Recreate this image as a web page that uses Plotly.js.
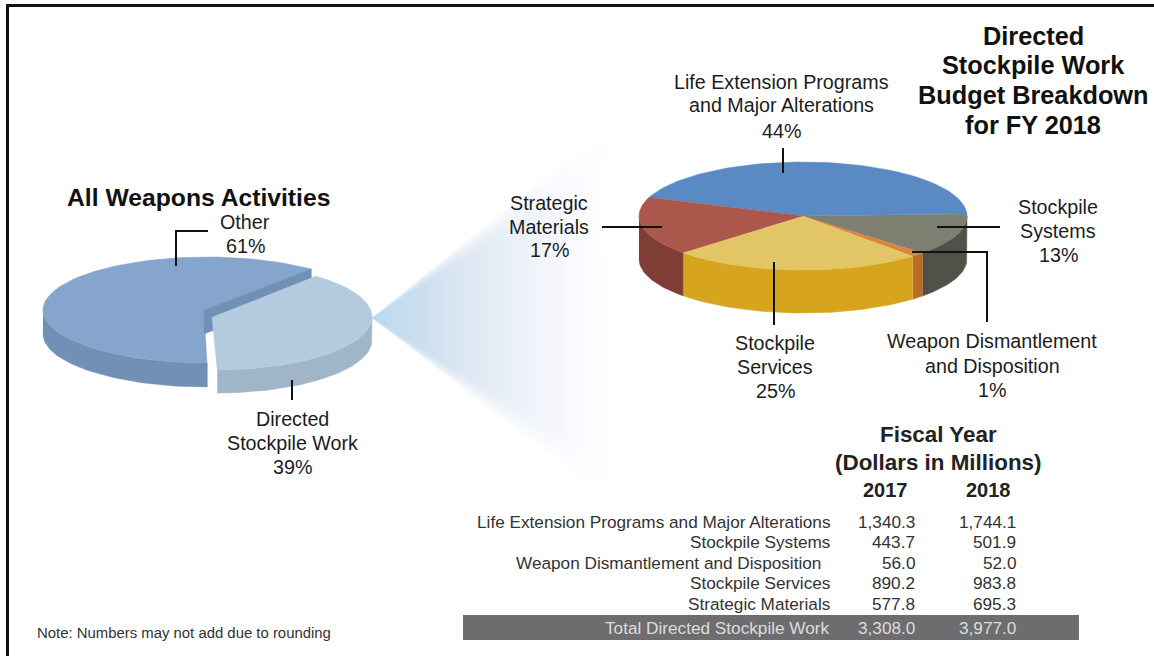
<!DOCTYPE html>
<html>
<head>
<meta charset="utf-8">
<script src="https://cdn.plot.ly/plotly-3.0.1.min.js"></script>
<style>html,body{margin:0;padding:0;background:#fff}#chart{width:1154px;height:656px}</style>
</head>
<body>
<div id="chart"></div>
<script>
// ---------- data ----------
const overviewNames = ['Other', 'Directed Stockpile Work'];
const overviewShares = [61, 39];
const budgetNames = ['Life Extension Programs and Major Alterations', 'Stockpile Systems', 'Weapon Dismantlement and Disposition', 'Stockpile Services', 'Strategic Materials'];
const fy2017 = [1340.3, 443.7, 56.0, 890.2, 577.8];
const fy2018 = [1744.1, 501.9, 52.0, 983.8, 695.3];
const total2017 = 3308.0;
const total2018 = 3977.0;
const budgetTopColors = ['#5a8ac3', '#7d7f70', '#d9853c', '#e2c564', '#ab574b'];
const budgetSideColors = ['#3f6a9c', '#50524a', '#b96d22', '#d7a41e', '#7e3d35'];
const overviewTopColors = ['#86a5cd', '#b3cadf'];
const overviewSideColors = ['#7190b6', '#a1b5c9'];

const FONT = '"Liberation Sans", Arial, sans-serif';
const INK = '#1c1c1c';
const rad = d => d * Math.PI / 180;
const traces = [];

function polygon(pts, color) {
  traces.push({type: 'scatter', mode: 'lines', x: pts.map(p => p[0]), y: pts.map(p => p[1]),
    fill: 'toself', fillcolor: color, line: {color: color, width: 0.5}, hoverinfo: 'skip', showlegend: false});
}
function arc(p, a, b, dy) {
  const n = Math.max(2, Math.ceil(Math.abs(b - a) / 2)), out = [];
  for (let i = 0; i <= n; i++) {
    const t = rad(a + (b - a) * i / n);
    out.push([p.cx + p.rx * Math.cos(t), p.cy - p.ry * Math.sin(t) + (dy || 0)]);
  }
  return out;
}
function rimFace(p, a, b, color) {           // a<b in degrees; draw only the front half
  for (let k = -2; k <= 2; k++) {
    const lo = Math.max(a, 180 + 360 * k), hi = Math.min(b, 360 + 360 * k);
    if (hi > lo) polygon(arc(p, lo, hi).concat(arc(p, hi, lo, p.depth)), color);
  }
}
function topFace(p, a, b, color) {
  polygon([[p.ax, p.ay]].concat(arc(p, a, b)), color);
}

// ---------- connector fan (soft edges built from nested triangles) ----------
const fanSpreads = [1, 0.97, 0.94, 0.91, 0.88, 0.85, 0.82, 0.79];
fanSpreads.forEach(spread => {
  traces.push({type: 'scatter', mode: 'lines', x: [372, 625, 625, 372], y: [318, 318 - 208 * spread, 318 + 197 * spread, 318],
    fill: 'toself', line: {width: 0}, hoverinfo: 'skip', showlegend: false,
    fillgradient: {type: 'horizontal', start: 372, stop: 625,
      colorscale: [[0, 'rgba(180,214,236,0.28)'], [0.35, 'rgba(205,219,236,0.14)'], [0.75, 'rgba(235,240,248,0.08)'], [1, 'rgba(255,255,255,0)']]}});
});

// ---------- left pie ----------
const leftPie = {cx: 207, cy: 310, rx: 164, ry: 53, depth: 24, ax: 204, ay: 310};
const leftOut = {cx: 217, cy: 317, rx: 155, ry: 53, depth: 23, ax: 212, ay: 317};
const leftStart = 50.5;
const otherEnd = leftStart + overviewShares[0] / 100 * 360;
const dswEnd = otherEnd + overviewShares[1] / 100 * 360;
rimFace(leftPie, leftStart, otherEnd, overviewSideColors[0]);
topFace(leftPie, leftStart, otherEnd, overviewTopColors[0]);
// cut face of the main slice, seen behind the pulled-out slice
const tip = arc(leftPie, leftStart, leftStart)[0];
polygon([[leftPie.ax, leftPie.ay], tip, [tip[0], tip[1] + leftPie.depth], [leftPie.ax, leftPie.ay + leftPie.depth]], overviewSideColors[0]);
rimFace(leftOut, otherEnd, dswEnd, overviewSideColors[1]);
topFace(leftOut, otherEnd, dswEnd, overviewTopColors[1]);

// ---------- right pie ----------
const rightPie = {cx: 803, cy: 216, rx: 164, ry: 54, depth: 43, ax: 803, ay: 216};
const budgetTotal = fy2018.reduce((s, v) => s + v, 0);
let angle = 160;
fy2018.forEach((v, i) => {
  const next = angle - v / budgetTotal * 360;
  rimFace(rightPie, next, angle, budgetSideColors[i]);
  topFace(rightPie, next, angle, budgetTopColors[i]);
  angle = next;
});

// ---------- text ----------
const annotations = [];
function txt(s, x, y, o) {
  o = o || {};
  annotations.push({text: s, x: x, y: y, xref: 'x', yref: 'y', showarrow: false, xanchor: o.anchor || 'center', yanchor: 'middle',
    align: o.anchor || 'center', borderpad: 0,
    font: {family: FONT, size: o.size || 19.7, color: o.color || INK, weight: o.bold ? 700 : 400}});
}
function stack(lines, x, ys, o) { lines.forEach((l, i) => txt(l, x, ys[i], o)); }
const pct = (v, t) => Math.round(v / t * 100) + '%';
const fmt = v => v.toLocaleString('en-US', {minimumFractionDigits: 1, maximumFractionDigits: 1});

stack(['Directed', 'Stockpile Work', 'Budget Breakdown', 'for FY 2018'], 1033, [36, 65, 95, 125], {size: 25.3, bold: true, color: '#111'});
txt('All Weapons Activities', 198, 197, {size: 24.7, bold: true, color: '#111'});
stack(['Other', overviewShares[0] + '%'], 245, [222, 246]);
stack(['Directed', 'Stockpile Work', overviewShares[1] + '%'], 292, [419, 443, 467]);
stack(['Life Extension Programs', 'and Major Alterations', pct(fy2018[0], budgetTotal)], 781, [82, 105, 131]);
stack(['Stockpile', 'Systems', pct(fy2018[1], budgetTotal)], 1058, [207, 231, 255]);
stack(['Weapon Dismantlement', 'and Disposition', pct(fy2018[2], budgetTotal)], 992, [341, 366, 390]);
stack(['Stockpile', 'Services', pct(fy2018[3], budgetTotal)], 775, [343, 367, 391]);
stack(['Strategic', 'Materials', '17%'], 549, [203, 227, 250]);
stack(['Fiscal Year', '(Dollars in Millions)'], 938, [434, 462], {size: 22.4, bold: true, color: '#222'});
txt('2017', 885, 490, {size: 20, bold: true, color: '#222'});
txt('2018', 988, 490, {size: 20, bold: true, color: '#222'});
const rowY = [522, 542, 563, 583, 604];
const labelRight = [831, 831, 822, 831, 831];
budgetNames.forEach((n, i) => {
  txt(n, labelRight[i], rowY[i], {size: 17.2, anchor: 'right', color: '#333'});
  txt(fmt(fy2017[i]), 916, rowY[i], {size: 17.2, anchor: 'right', color: '#333'});
  txt(fmt(fy2018[i]), 1017, rowY[i], {size: 17.2, anchor: 'right', color: '#333'});
});
txt('Total Directed Stockpile Work', 831, 628, {size: 17.2, anchor: 'right', color: '#dcdcdc'});
txt(fmt(total2017), 916, 628, {size: 17.2, anchor: 'right', color: '#dcdcdc'});
txt(fmt(total2018), 1017, 628, {size: 17.2, anchor: 'right', color: '#dcdcdc'});
txt('Note: Numbers may not add due to rounding', 36, 633, {size: 14.9, anchor: 'left', color: '#333'});

// ---------- leaders, bar, frame ----------
const ln = (d, w) => ({type: 'path', path: d, xref: 'x', yref: 'y', line: {color: '#111', width: w || 2}, layer: 'above'});
const shapes = [
  {type: 'rect', xref: 'x', yref: 'y', x0: 463, x1: 1079, y0: 615, y1: 640, fillcolor: '#6d6d70', line: {width: 0}, layer: 'below'},
  ln('M7.5,656 L7.5,5.5 L1154,5.5', 3),
  ln('M783,148 L783,173'), ln('M602,227 L662,227'), ln('M937,227 L1000,227'),
  ln('M912,252 L987,252 L987,322'), ln('M774,262 L774,325'),
  ln('M176,266 L176,231 L208,231'), ln('M292,380 L292,400')
];

Plotly.newPlot('chart', traces, {
  width: 1154, height: 656, margin: {l: 0, r: 0, t: 0, b: 0},
  paper_bgcolor: '#fff', plot_bgcolor: '#fff', showlegend: false,
  xaxis: {range: [0, 1154], visible: false, fixedrange: true},
  yaxis: {range: [656, 0], visible: false, fixedrange: true},
  annotations: annotations, shapes: shapes
}, {staticPlot: true, displayModeBar: false});
</script>
</body>
</html>
